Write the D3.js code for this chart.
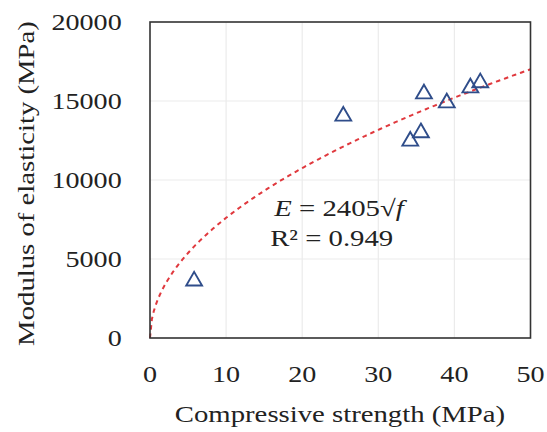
<!DOCTYPE html>
<html>
<head>
<meta charset="utf-8">
<script src="https://cdn.jsdelivr.net/npm/d3@7"></script>
<style>
  body { margin: 0; background: #fff; }
  text { font-family: "Liberation Serif", "Times New Roman", serif; fill: #222; }
</style>
</head>
<body>
<svg id="chart" width="547" height="432"></svg>
<script>
// measured points: compressive strength (MPa) vs modulus (MPa)
var strength = [5.8, 25.4, 34.2, 35.6, 36.0, 39.0, 42.1, 43.4];
var modulus  = [3670, 14110, 12530, 13060, 15520, 14950, 15900, 16220];
var xTicks = [0, 10, 20, 30, 40, 50];
var yTicks = [0, 5000, 10000, 15000, 20000];
var coef = 2405; // E = 2405 * sqrt(f)

var svg = d3.select("#chart");
var pLeft = 150, pRight = 530.5, pTop = 22, pBottom = 338;
var sx = 1.25; // glyphs in the original are wider than Liberation Serif

var x = d3.scaleLinear().domain([0, 50]).range([pLeft, pRight]);
var y = d3.scaleLinear().domain([0, 20000]).range([pBottom, pTop]);

// grid
svg.selectAll(".gx").data(xTicks.slice(1, -1)).enter().append("line")
    .attr("x1", function(d){ return x(d); }).attr("x2", function(d){ return x(d); })
    .attr("y1", pTop).attr("y2", pBottom)
    .attr("stroke", "#ebebeb").attr("stroke-width", 1.2);
svg.selectAll(".gy").data(yTicks.slice(1, -1)).enter().append("line")
    .attr("y1", function(d){ return y(d); }).attr("y2", function(d){ return y(d); })
    .attr("x1", pLeft).attr("x2", pRight)
    .attr("stroke", "#ebebeb").attr("stroke-width", 1.2);

// trend line
var fx = d3.range(0, 50.01, 0.25);
var line = d3.line()
    .x(function(d){ return x(d); })
    .y(function(d){ return y(coef * Math.sqrt(d)); });
svg.append("path")
    .datum(fx)
    .attr("d", line)
    .attr("fill", "none")
    .attr("stroke", "#e0393e")
    .attr("stroke-width", 2)
    .attr("stroke-dasharray", "4.5,4");

// border
svg.append("rect")
    .attr("x", pLeft).attr("y", pTop)
    .attr("width", pRight - pLeft).attr("height", pBottom - pTop)
    .attr("fill", "none").attr("stroke", "#333").attr("stroke-width", 1.6);

// markers
var tri = d3.symbol().type(d3.symbolTriangle).size(108);
svg.selectAll(".pt").data(strength).enter().append("path")
    .attr("class", "pt")
    .attr("d", tri)
    .attr("transform", function(d, i){ return "translate(" + x(d) + "," + (y(modulus[i]) + 1) + ")"; })
    .attr("fill", "none")
    .attr("stroke", "#2f4d8a")
    .attr("stroke-width", 1.9);

function put(px, py, extra) {
    return "translate(" + px + "," + py + ")" + (extra || "") + " scale(" + sx + ",1)";
}

// tick labels
svg.selectAll(".xl").data(xTicks).enter().append("text")
    .attr("transform", function(d){ return put(x(d), 381.5); })
    .attr("text-anchor", "middle")
    .style("font-size", "22.5px")
    .text(function(d){ return d; });
svg.selectAll(".yl").data(yTicks).enter().append("text")
    .attr("transform", function(d){ return put(121.7, y(d) + 7.5); })
    .attr("text-anchor", "end")
    .style("font-size", "22.5px")
    .text(function(d){ return d; });

// axis titles
svg.append("text")
    .attr("transform", put(340, 421.5))
    .attr("text-anchor", "middle")
    .style("font-size", "23px")
    .text("Compressive strength (MPa)");
svg.append("text")
    .attr("transform", put(34, 183.5, " rotate(-90)"))
    .attr("text-anchor", "middle")
    .style("font-size", "23px")
    .text("Modulus of elasticity (MPa)");

// equation
var eq = svg.append("text")
    .attr("transform", put(339, 215.7))
    .attr("text-anchor", "middle")
    .style("font-size", "23px");
eq.append("tspan").style("font-style", "italic").text("E");
eq.append("tspan").text(" = " + coef + "\u221A");
eq.append("tspan").style("font-style", "italic").text("f");
svg.append("text")
    .attr("transform", put(331.7, 245.7))
    .attr("text-anchor", "middle")
    .style("font-size", "23px")
    .text("R\u00B2 = 0.949");
</script>
</body>
</html>
